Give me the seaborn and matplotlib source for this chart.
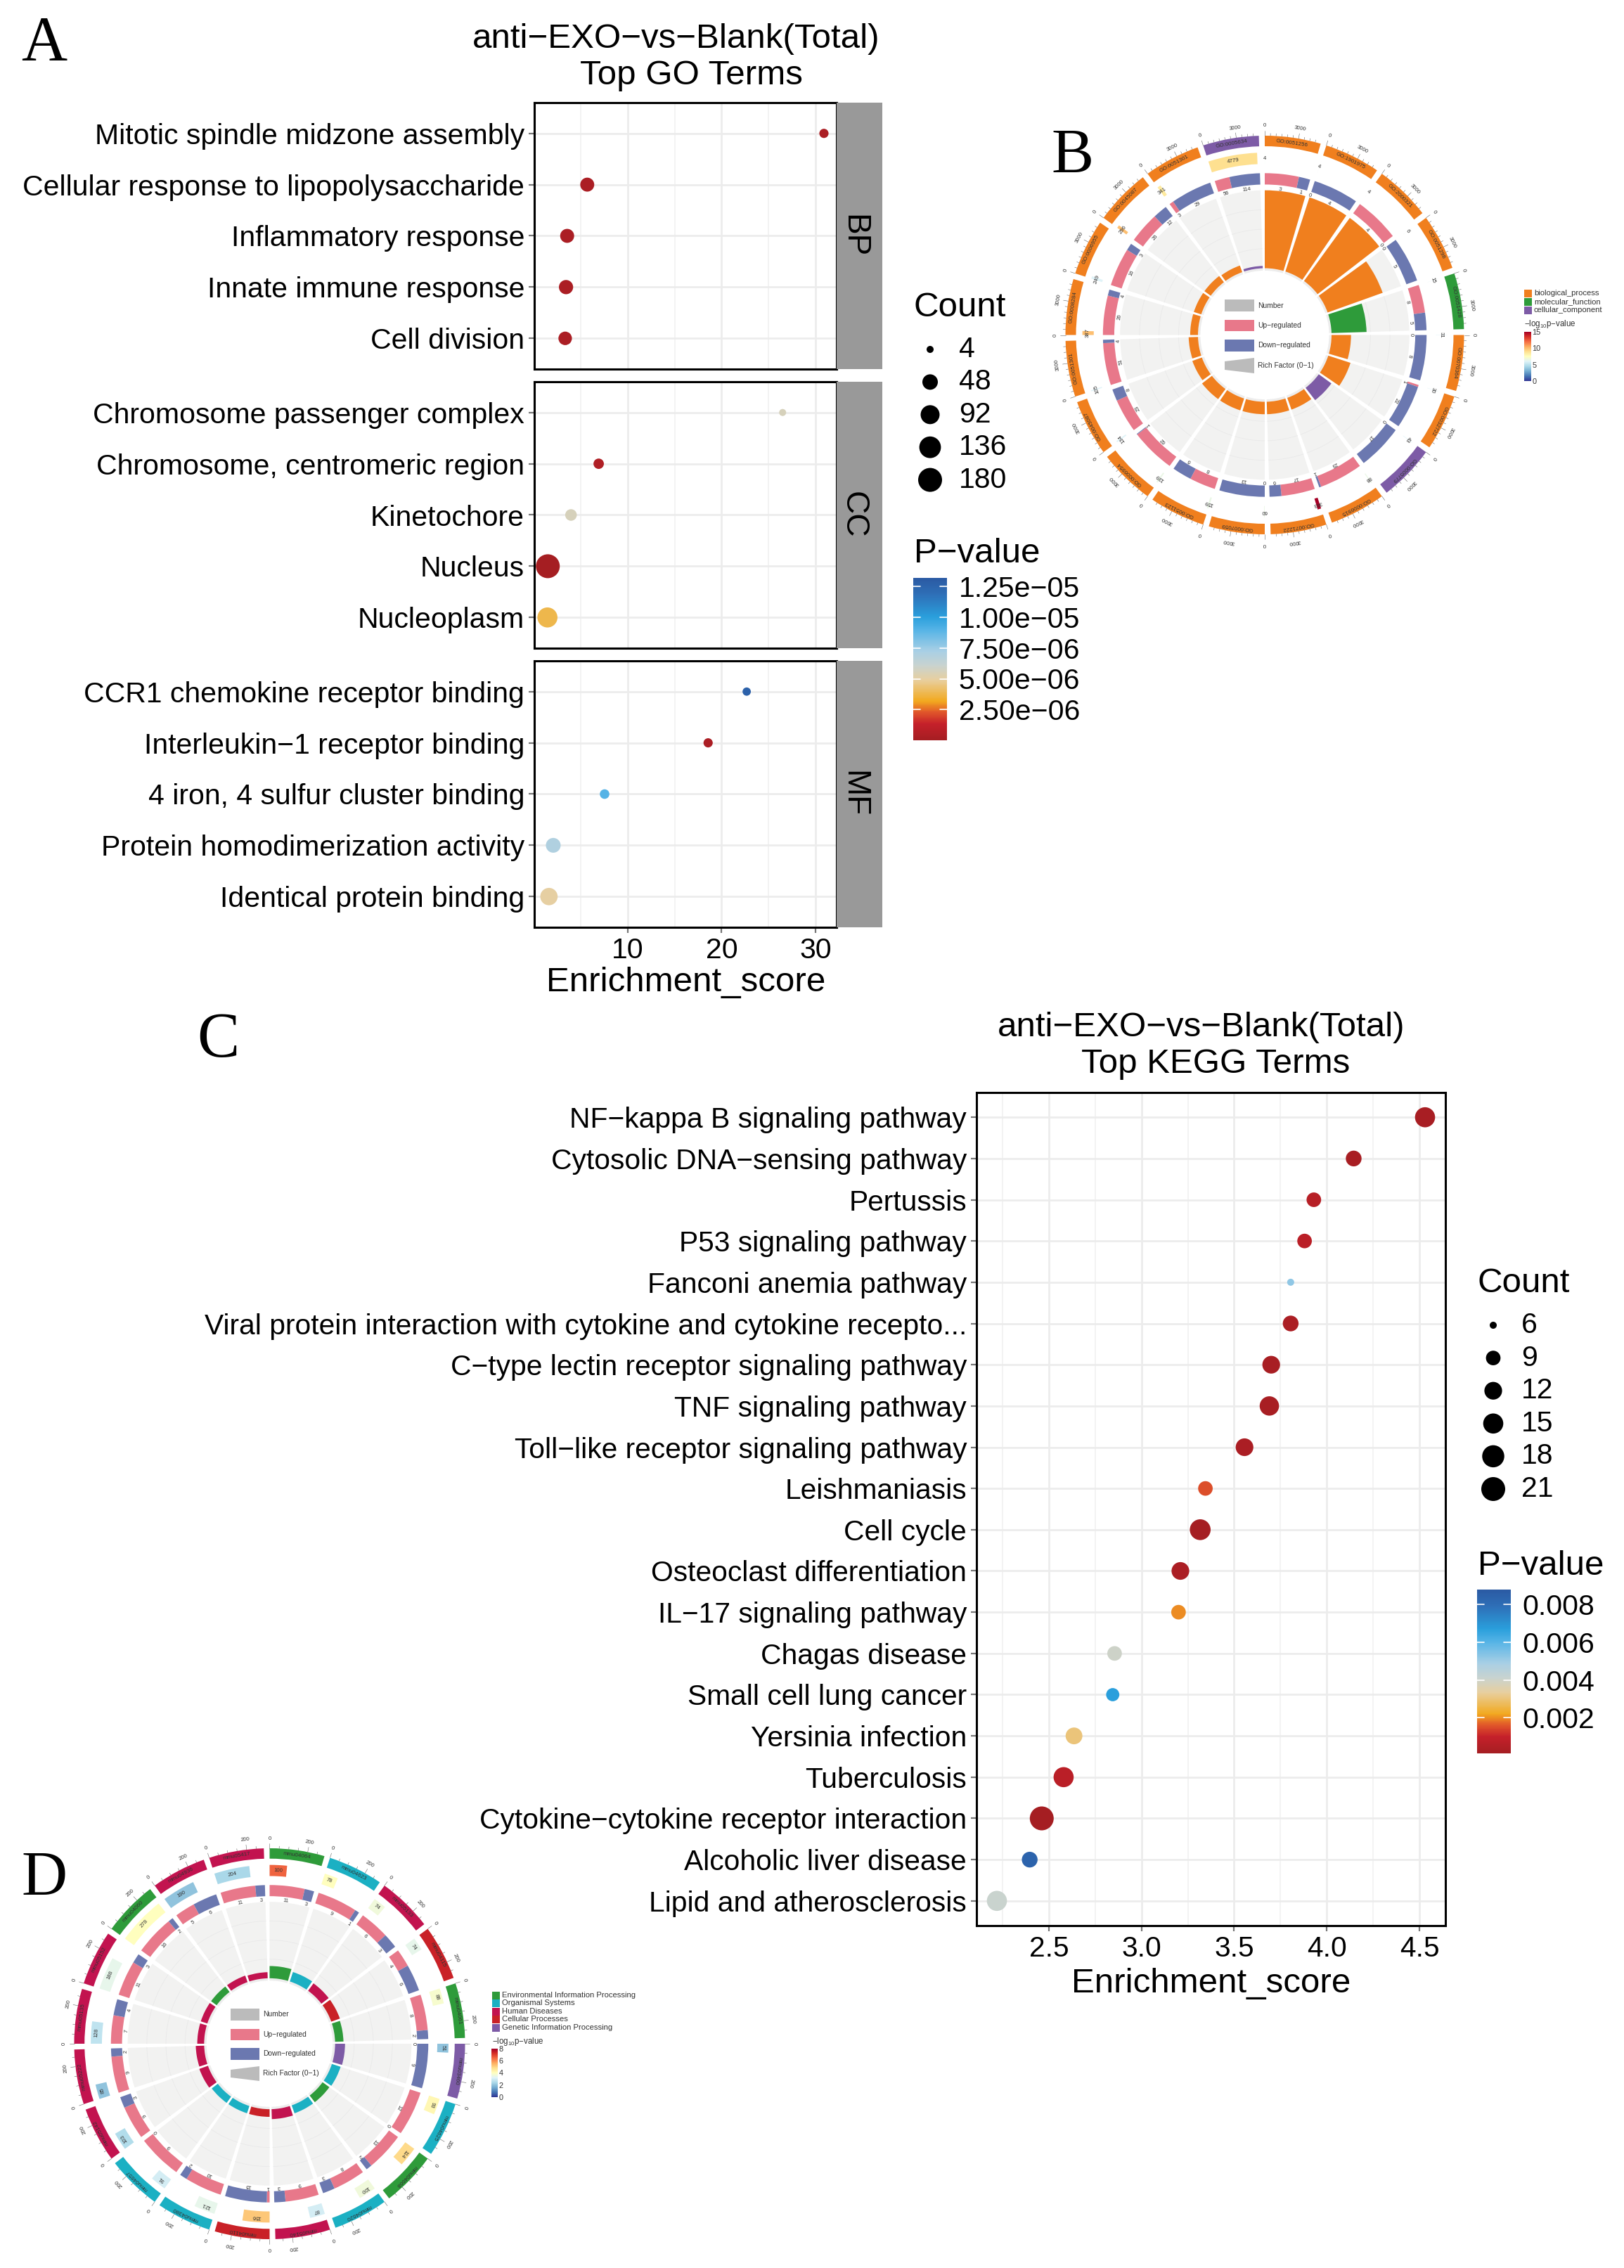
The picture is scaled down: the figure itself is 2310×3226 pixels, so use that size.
import numpy as np
import pandas as pd
import matplotlib
matplotlib.use("Agg")
import matplotlib.pyplot as plt
import seaborn as sns
from matplotlib.cm import ScalarMappable
from matplotlib.colors import LinearSegmentedColormap, Normalize
from matplotlib.patches import Polygon, Rectangle

W, H = 2310, 3226

# panel A
go_groups = ["BP", "CC", "MF"]
go_terms = [
    ["Mitotic spindle midzone assembly", "Cellular response to lipopolysaccharide",
     "Inflammatory response", "Innate immune response", "Cell division"],
    ["Chromosome passenger complex", "Chromosome, centromeric region",
     "Kinetochore", "Nucleus", "Nucleoplasm"],
    ["CCR1 chemokine receptor binding", "Interleukin−1 receptor binding",
     "4 iron, 4 sulfur cluster binding", "Protein homodimerization activity",
     "Identical protein binding"],
]
go_score = [[30.9, 5.68, 3.54, 3.42, 3.33], [26.5, 6.9, 3.95, 1.48, 1.44], [22.67, 18.56, 7.53, 2.06, 1.6]]
go_count = [[7, 34, 34, 36, 30], [4, 11, 17, 180, 109], [5, 7, 8, 41, 70]]
go_pvalue = [[3e-7, 3e-7, 3e-7, 3e-7, 3e-7], [5.6e-6, 5e-7, 5.6e-6, 1e-8, 3.8e-6], [1.27e-5, 3e-7, 9e-6, 7e-6, 5e-6]]
go_count_key = [4, 48, 92, 136, 180]
go_p_ticks = [2.5e-6, 5e-6, 7.5e-6, 1e-5, 1.25e-5]
go_p_labels = ["2.50e−06", "5.00e−06", "7.50e−06", "1.00e−05", "1.25e−05"]

# panel C
kegg_terms = [
    "NF−kappa B signaling pathway", "Cytosolic DNA−sensing pathway", "Pertussis",
    "P53 signaling pathway", "Fanconi anemia pathway",
    "Viral protein interaction with cytokine and cytokine recepto...",
    "C−type lectin receptor signaling pathway", "TNF signaling pathway",
    "Toll−like receptor signaling pathway", "Leishmaniasis", "Cell cycle",
    "Osteoclast differentiation", "IL−17 signaling pathway", "Chagas disease",
    "Small cell lung cancer", "Yersinia infection", "Tuberculosis",
    "Cytokine−cytokine receptor interaction", "Alcoholic liver disease",
    "Lipid and atherosclerosis",
]
kegg_score = [4.53, 4.145, 3.93, 3.88, 3.805, 3.805, 3.70, 3.69, 3.556, 3.345, 3.317,
              3.21, 3.20, 2.855, 2.845, 2.636, 2.58, 2.462, 2.397, 2.22]
kegg_count = [15, 10, 9, 9, 6, 10, 12, 14, 12, 9, 16, 12, 9, 9, 8, 11, 15, 21, 10, 15]
kegg_pvalue = [2e-4, 2e-4, 6e-4, 7e-4, 5.2e-3, 3e-4, 2e-4, 2e-4, 3e-4, 1.5e-3, 1e-4,
               3e-4, 2e-3, 4e-3, 6.7e-3, 3e-3, 7e-4, 1e-4, 8.4e-3, 4.1e-3]
kegg_count_key = [6, 9, 12, 15, 18, 21]
kegg_p_ticks = [0.002, 0.004, 0.006, 0.008]

# panel B
b_ids = ["GO:0051256", "GO:1901975", "GO:2000321", "GO:0051298", "GO:0051428",
         "GO:0070364", "GO:0032722", "GO:0005779", "GO:0006915", "GO:0071222",
         "GO:0007059", "GO:0051123", "GO:0006954", "GO:0045087", "GO:0051301",
         "GO:0008284", "GO:0006955", "GO:0045087", "GO:0051301", "GO:0005634"]
b_groups = [0, 0, 0, 0, 1, 0, 0, 2, 0, 0, 0, 0, 0, 0, 0, 0, 0, 0, 0, 2]
b_number = [4, 4, 4, 6, 15, 31, 30, 43, 88, 343, 60, 159, 139, 134, 105, 387, 249, 296, 341, 4779]
b_logp = [6.5, 6.5, 6.5, 6.5, 6, 6, 6, 6, 6.5, 15, 6.5, 6.5, 6.5, 6, 6, 10, 6, 10, 8.5, 9]
b_up = [3, 0, 4, 0, 8, 0, 1, 0, 23, 17, 0, 8, 62, 23, 51, 26, 16, 26, 3, 56]
b_down = [1, 4, 0, 5, 5, 8, 22, 17, 1, 6, 13, 6, 1, 8, 4, 4, 3, 12, 29, 114]
b_rich = [1, 1, 1, 0.75, 0.45, 0.25, 0.3, 0.2, 0.16, 0.16, 0.16, 0.16, 0.16, 0.13, 0.12, 0.1, 0.1, 0.1, 0.09, 0.03]
b_group_names = ["biological_process", "molecular_function", "cellular_component"]
b_group_colors = ["#F07F1E", "#2E9B3A", "#7D5BA6"]

# panel D
d_ids = ["mmu04064", "mmu04623", "mmu05133", "mmu04115", "mmu04061", "mmu03460",
         "mmu04625", "mmu04668", "mmu04620", "mmu05140", "mmu04110", "mmu04380",
         "mmu04657", "mmu05142", "mmu05222", "mmu05135", "mmu05152", "mmu04060",
         "mmu04936", "mmu05417"]
d_groups = [0, 1, 2, 3, 0, 4, 1, 0, 1, 2, 3, 1, 1, 2, 2, 2, 2, 0, 2, 2]
d_number = [100, 78, 74, 74, 88, 51, 93, 114, 100, 87, 156, 121, 91, 103, 85, 128, 188, 278, 190, 204]
d_logp = [6.5, 4, 3.6, 3.4, 3.8, 2, 4.2, 4.9, 3.6, 3, 5.2, 3.4, 3, 2.5, 2, 2.7, 3.4, 4, 2, 2.4]
d_up = [11, 9, 6, 4, 8, 0, 12, 13, 8, 9, 1, 10, 9, 9, 9, 7, 11, 16, 5, 11]
d_down = [3, 1, 3, 6, 2, 9, 0, 2, 3, 3, 15, 2, 0, 3, 2, 4, 3, 2, 6, 3]
d_rich = [0.16, 0.13, 0.12, 0.12, 0.11, 0.13, 0.12, 0.11, 0.11, 0.13, 0.1, 0.1, 0.1, 0.12, 0.11, 0.09, 0.09, 0.09, 0.09, 0.08]
d_group_names = ["Environmental Information Processing", "Organismal Systems", "Human Diseases",
                 "Cellular Processes", "Genetic Information Processing"]
d_group_colors = ["#2E9B3A", "#1BB0C3", "#C2134F", "#C92127", "#7D5BA6"]

sns.set_style("white")
plt.rcParams["font.family"] = ["Liberation Sans", "DejaVu Sans"]
plt.rcParams["mathtext.fontset"] = "custom"
plt.rcParams["mathtext.rm"] = "Liberation Sans"
plt.rcParams["text.color"] = "black"
plt.rcParams["xtick.labelcolor"] = "black"
plt.rcParams["ytick.labelcolor"] = "black"

p_cmap = LinearSegmentedColormap.from_list("pval", [
    (0.0, "#A51E22"), (0.1, "#C5202A"), (0.17, "#E0552A"), (0.24, "#F2A91F"), (0.37, "#E8CF9E"),
    (0.46, "#C9D3CF"), (0.55, "#A8CFE5"), (0.68, "#56B4E6"), (0.76, "#2A9FDC"), (0.9, "#2E6FB7"),
    (1.0, "#2B5AA3")])
logp_cmap = plt.get_cmap("RdYlBu_r")
UP_COLOR, DOWN_COLOR, KEY_GRAY = "#E8788A", "#6B78B0", "#BBBBBB"

fig = plt.figure(figsize=(W / 100, H / 100), dpi=100)


def rect(x0, y0, x1, y1):
    # pixel box to figure fractions
    return [x0 / W, 1 - y1 / H, (x1 - x0) / W, (y1 - y0) / H]


def size_scale(counts, key, d_min, d_max):
    # ggplot style area scale, diameters in px
    lo, hi = min(key), max(key)
    out = {}
    for c in set(list(counts) + list(key)):
        d = d_min + np.sqrt((c - lo) / (hi - lo)) * (d_max - d_min)
        out[c] = (d * 0.72) ** 2
    return out


def dot_panel(ax, terms, score, count, pvalue, sizes, norm, xlim, major, minor, label_size=29.5):
    df = pd.DataFrame({"term": terms, "score": score, "count": count, "p": pvalue})
    sns.scatterplot(data=df, x="score", y="term", hue="p", size="count", sizes=sizes,
                    palette=p_cmap, hue_norm=norm, legend=False, linewidth=0, ax=ax, zorder=3)
    ax.set_xlim(*xlim)
    ax.set_ylim(len(terms) - 0.4, -0.6)
    ax.set_xticks(major)
    ax.set_xticks(minor, minor=True)
    ax.set_axisbelow(True)
    ax.grid(which="major", color="#ECECEC", lw=2.0)
    ax.grid(which="minor", axis="x", color="#F1F1F1", lw=1.2)
    ax.tick_params(which="major", length=6, width=1.6, color="#777777", left=True, bottom=True,
                   labelsize=label_size, pad=4)
    ax.tick_params(which="minor", length=0)
    ax.set_xlabel("")
    ax.set_ylabel("")
    for s in ax.spines.values():
        s.set_linewidth(2.2)
        s.set_color("black")


def p_colorbar(box, norm, ticks, labels):
    cax = fig.add_axes(rect(*box))
    cb = fig.colorbar(ScalarMappable(norm=norm, cmap=p_cmap), cax=cax)
    cb.set_ticks(ticks)
    cb.set_ticklabels(labels)
    cb.outline.set_visible(False)
    cb.ax.tick_params(length=0, labelsize=29.5, pad=12)
    for t in ticks:
        cax.plot([0, 0.2], [t, t], color="white", lw=1.2)
        cax.plot([0.8, 1], [t, t], color="white", lw=1.2)


def count_key(x, y0, step, key, sizes, x_text):
    ys = [y0 + i * step for i in range(len(key))]
    kdf = pd.DataFrame({"x": [x] * len(key), "y": ys, "c": key})
    sns.scatterplot(data=kdf, x="x", y="y", size="c", sizes=sizes, color="black", linewidth=0,
                    legend=False, ax=overlay, clip_on=False)
    for yy, c in zip(ys, key):
        overlay.text(x_text, yy, str(c), fontsize=29.5, va="center", ha="left")


def circos(cx, cy, R, ids, groups, group_colors, number, logp, up, down, rich, scale, tick_major, tick_minor, logp_max):
    extent = 1.09
    ax = fig.add_axes(rect(cx - R * extent, cy - R * extent, cx + R * extent, cy + R * extent), projection="polar")
    ax.set_theta_zero_location("N")
    ax.set_theta_direction(-1)
    ax.set_ylim(0, extent)
    ax.axis("off")
    span = 16.3
    r_in, r_bg = 0.335, 0.726
    for i, name in enumerate(ids):
        start = 18 * i
        mid = start + span / 2

        def seg(a, b, r0, r1, color, z=1):
            ax.bar(np.radians((a + b) / 2), r1 - r0, width=np.radians(b - a), bottom=r0, color=color,
                   linewidth=0, zorder=z)

        def label(a, r, s, size):
            ax.text(np.radians(a), r, s, rotation=-a, rotation_mode="anchor", ha="center", va="center",
                    fontsize=size, color="#333333", zorder=4)

        # outer ring and its axis
        seg(start, start + span, 0.947, 1.0, group_colors[groups[i]])
        label(mid, 0.973, name, 5.8)
        for v in np.arange(0, scale, tick_minor):
            a = start + span * v / scale
            length = 0.025 if v % tick_major == 0 else 0.012
            ax.plot([np.radians(a)] * 2, [1.0, 1.0 + length], color="#666666", lw=0.4)
            if v % tick_major == 0:
                label(a, 1.05, str(int(v)), 5.6)
        # number ring
        bar_w = span * number[i] / scale
        seg(start, start + bar_w, 0.858, 0.915, logp_cmap(logp[i] / logp_max))
        label(start + bar_w / 2, 0.887, str(number[i]), 5.6)
        # up and down ring
        total = up[i] + down[i]
        split = start + span * up[i] / total
        seg(start, split, 0.755, 0.812, UP_COLOR)
        seg(split, start + span, 0.755, 0.812, DOWN_COLOR)
        label((start + split) / 2, 0.735, str(up[i]), 5.4)
        label((split + start + span) / 2, 0.735, str(down[i]), 5.4)
        # rich factor
        seg(start, start + span, r_in, r_bg, "#F2F2F1", z=0.5)
        seg(start, start + span, r_in - 0.012, r_in, "#EDEDED", z=0.5)
        for f in [0.25, 0.5, 0.75]:
            rr = r_in + f * (r_bg - r_in)
            th = np.radians(np.linspace(start, start + span, 20))
            ax.plot(th, [rr] * 20, color="#E9E9E9", lw=0.6, zorder=0.7)
        seg(start, start + span, r_in, r_in + rich[i] * (r_bg - r_in), group_colors[groups[i]])


def center_key(x0, x1, ys, rich_y, x_text):
    names = ["Number", "Up−regulated", "Down−regulated"]
    colors = [KEY_GRAY, UP_COLOR, DOWN_COLOR]
    for (y0, y1), c, n in zip(ys, colors, names):
        overlay.add_patch(Rectangle((x0, y0), x1 - x0, y1 - y0, color=c, lw=0))
        overlay.text(x_text, (y0 + y1) / 2, n, fontsize=7.4, va="center", color="#333333")
    y0, y1 = rich_y
    overlay.add_patch(Polygon([(x0, y0 + 5), (x1, y0), (x1, y1), (x0, y1 - 5)], color=KEY_GRAY, lw=0))
    overlay.text(x_text, (y0 + y1) / 2, "Rich Factor (0−1)", fontsize=7.4, va="center", color="#333333")


def group_key(x, ys, names, colors, title_y, bar_box, ticks, vmax):
    for y, n, c in zip(ys, names, colors):
        overlay.add_patch(Rectangle((x, y - 5.5), 11, 11, color=c, lw=0))
        overlay.text(x + 14, y, n, fontsize=8.1, va="center", color="#333333")
    overlay.text(x, title_y, r"−log$_{10}$p−value", fontsize=8.3, va="center", color="#333333",
                 math_fontfamily="custom")
    cax = fig.add_axes(rect(*bar_box))
    cb = fig.colorbar(ScalarMappable(norm=Normalize(0, vmax), cmap=logp_cmap), cax=cax)
    cb.set_ticks(ticks)
    cb.outline.set_visible(False)
    cb.ax.tick_params(length=0, labelsize=7.8, pad=1, labelcolor="#333333")


# overlay in pixel coordinates for text and keys
overlay = fig.add_axes([0, 0, 1, 1], zorder=5)
overlay.set_xlim(0, W)
overlay.set_ylim(H, 0)
overlay.axis("off")

# ---- A ----
go_norm = Normalize(0, 1.32e-5)
all_go = [c for row in go_count for c in row]
go_sizes = size_scale(all_go, go_count_key, 10, 34)
go_boxes = [(146, 525), (543, 922), (940, 1319)]
for i, (top, bottom) in enumerate(go_boxes):
    ax = fig.add_axes(rect(760, top, 1190, bottom))
    dot_panel(ax, go_terms[i], go_score[i], go_count[i], go_pvalue[i], go_sizes, go_norm,
              (0.04, 32.25), [10, 20, 30], [5, 15, 25])
    if i < 2:
        ax.tick_params(which="major", bottom=False, labelbottom=False)
    overlay.add_patch(Rectangle((1190, top), 65, bottom - top, color="#999999", lw=0))
    overlay.text(1214, (top + bottom) / 2, go_groups[i], rotation=-90, fontsize=33, ha="center", va="center")

overlay.text(962, 55, "anti−EXO−vs−Blank(Total)", fontsize=35.5, ha="center", va="center")
overlay.text(983, 107, "Top GO Terms", fontsize=35.5, ha="center", va="center")
overlay.text(976, 1398, "Enrichment_score", fontsize=35.5, ha="center", va="center")
overlay.text(1300, 438, "Count", fontsize=35.5, va="center")
overlay.text(1300, 787, "P−value", fontsize=35.5, va="center")
count_key(1323, 497, 46.4, go_count_key, go_sizes, 1364)
p_colorbar((1299, 822, 1347, 1053), go_norm, go_p_ticks, go_p_labels)

# ---- C ----
kegg_norm = Normalize(0.0001, 0.0088)
kegg_sizes = size_scale(kegg_count, kegg_count_key, 10, 34)
ax_c = fig.add_axes(rect(1389, 1554, 2056, 2739))
dot_panel(ax_c, kegg_terms, kegg_score, kegg_count, kegg_pvalue, kegg_sizes, kegg_norm,
          (2.11, 4.64), [2.5, 3.0, 3.5, 4.0, 4.5], [2.25, 2.75, 3.25, 3.75, 4.25], label_size=29.3)
overlay.text(1709, 1461, "anti−EXO−vs−Blank(Total)", fontsize=35.5, ha="center", va="center")
overlay.text(1729, 1514, "Top KEGG Terms", fontsize=35.5, ha="center", va="center")
overlay.text(1723, 2822, "Enrichment_score", fontsize=35.5, ha="center", va="center")
overlay.text(2102, 1826, "Count", fontsize=35.5, va="center")
overlay.text(2102, 2227, "P−value", fontsize=35.5, va="center")
count_key(2124, 1885, 46.6, kegg_count_key, kegg_sizes, 2164)
p_colorbar((2101, 2261, 2149, 2494), kegg_norm, kegg_p_ticks, ["0.002", "0.004", "0.006", "0.008"])

# ---- B ----
circos(1799, 476.5, 283.5, b_ids, b_groups, b_group_colors, b_number, b_logp, b_up, b_down, b_rich,
       5000, 3000, 500, 15)
center_key(1742, 1784, [(426, 443), (455, 471), (483, 500)], (509, 531), 1789)
group_key(2168, [417, 429, 441], b_group_names, b_group_colors, 461, (2168, 472, 2178, 542), [0, 5, 10, 15], 15)

# ---- D ----
circos(383.5, 2907, 278, d_ids, d_groups, d_group_colors, d_number, d_logp, d_up, d_down, d_rich,
       290, 200, 50, 8)
center_key(328, 369, [(2857, 2874), (2886, 2902), (2913, 2930)], (2939, 2960), 374)
group_key(700, [2838, 2849, 2861, 2872, 2884], d_group_names, d_group_colors, 2904, (699, 2914, 708, 2983), [0, 2, 4, 6, 8], 8)

# panel letters
for letter, x, y in [("A", 30, 86), ("B", 1495, 246), ("C", 280, 1503), ("D", 30, 2696)]:
    overlay.text(x, y, letter, fontsize=65, family="Liberation Serif", va="baseline")

fig.savefig("out.png", dpi=100)
